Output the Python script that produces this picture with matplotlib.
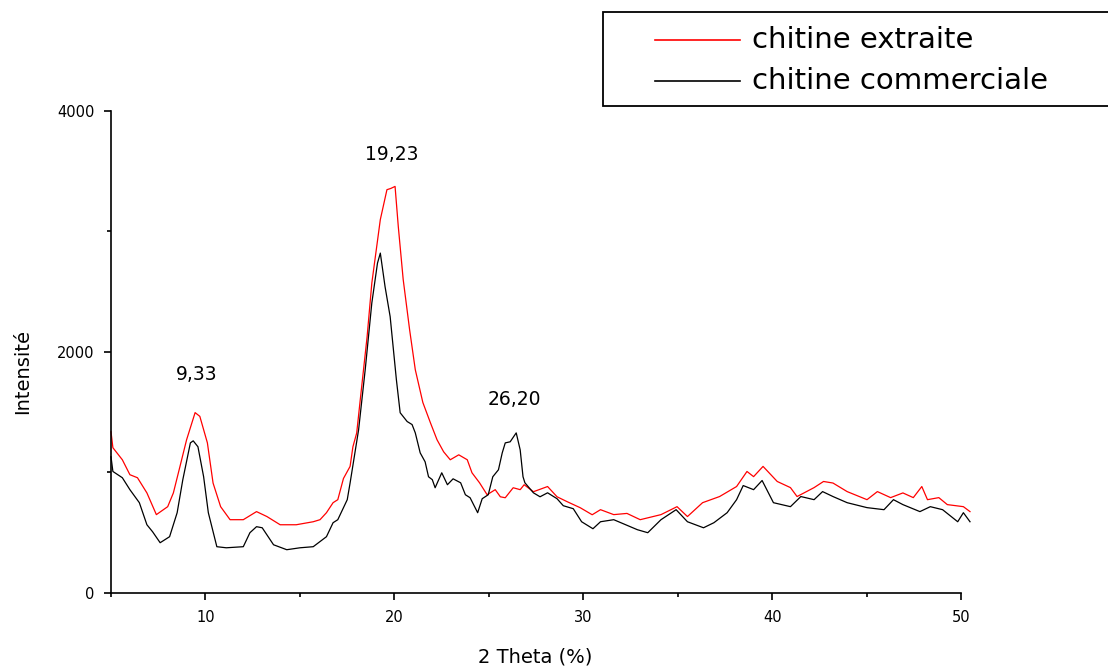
import matplotlib
matplotlib.use("Agg")
import matplotlib.pyplot as plt
from matplotlib.lines import Line2D
from matplotlib.patches import Rectangle

plt.rcParams["font.family"] = ["DejaVu Sans"]

# diffractogramme DRX (2 theta, intensité)
x_extraite = [5.0, 5.1, 5.6, 6.0, 6.4, 6.9, 7.4, 8.0, 8.3, 8.65, 9.0, 9.45, 9.7,
              10.1, 10.4, 10.8, 11.3, 12.0, 12.7, 13.25, 13.95, 14.8, 15.7, 16.06,
              16.4, 16.75, 17.0, 17.3, 17.65, 17.8, 18.0, 18.2, 18.55, 18.8, 19.25,
              19.6, 19.8, 20.03, 20.2, 20.46, 20.8, 21.1, 21.5, 21.9, 22.25, 22.6,
              22.95, 23.4, 23.85, 24.1, 24.5, 24.9, 25.33, 25.6, 25.86, 26.28, 26.65,
              26.86, 27.35, 28.1, 28.6, 29.14, 29.83, 30.46, 30.9, 31.6, 32.3, 33.0,
              34.1, 34.95, 35.5, 36.3, 37.2, 38.1, 38.65, 39.0, 39.5, 40.25, 40.95,
              41.3, 42.2, 42.7, 43.2, 43.95, 45.0, 45.55, 46.25, 46.9, 47.45, 47.9,
              48.2, 48.8, 49.25, 50.1, 50.45]
y_extraite = [1337, 1205, 1105, 981, 956, 830, 650, 716, 830, 1050, 1271, 1496, 1465,
              1245, 912, 716, 608, 608, 675, 634, 566, 566, 591, 608,
              666, 749, 774, 950, 1050, 1213, 1327, 1620, 2125, 2570, 3097,
              3345, 3355, 3372, 3040, 2600, 2183, 1852, 1580, 1412, 1271, 1171,
              1105, 1146, 1105, 997, 914, 815, 857, 798, 790, 873, 857,
              898, 840, 883, 798, 757, 707, 649, 691, 650, 660, 608,
              650, 716, 634, 749, 800, 883, 1008, 965, 1050, 925, 874,
              800, 874, 925, 912, 841, 774, 841, 791, 830, 791, 883,
              774, 791, 733, 716, 675]

x_commerciale = [5.0, 5.1, 5.6, 6.0, 6.5, 6.9, 7.2, 7.6, 8.1, 8.5, 8.8, 9.2, 9.35,
                 9.6, 9.9, 10.15, 10.6, 11.1, 12.0, 12.35, 12.7, 13.0, 13.6, 14.3,
                 15.0, 15.7, 16.4, 16.75, 17.0, 17.5, 17.65, 18.1, 18.45, 18.8, 19.1,
                 19.25, 19.5, 19.77, 20.1, 20.3, 20.67, 20.93, 21.1, 21.36, 21.62, 21.8,
                 22.0, 22.15, 22.5, 22.8, 23.1, 23.5, 23.75, 24.0, 24.4, 24.64, 24.96,
                 25.2, 25.5, 25.7, 25.86, 26.12, 26.44, 26.65, 26.8, 26.9, 27.35, 27.7,
                 28.1, 28.6, 28.93, 29.46, 29.9, 30.5, 30.9, 31.6, 32.85, 33.4, 34.1,
                 34.9, 35.5, 36.35, 36.9, 37.6, 38.1, 38.45, 39.0, 39.45, 40.05, 40.95,
                 41.5, 42.2, 42.65, 43.2, 43.95, 45.0, 45.9, 46.4, 46.9, 47.8, 48.35,
                 49.0, 49.8, 50.1, 50.45]
y_commerciale = [1130, 1008, 956, 857, 749, 566, 508, 417, 467, 666, 940, 1245, 1262,
                 1213, 965, 666, 384, 375, 384, 500, 550, 541, 400, 359,
                 375, 384, 467, 583, 608, 774, 912, 1353, 1852, 2405, 2736,
                 2819, 2541, 2292, 1769, 1495, 1422, 1397, 1328, 1162, 1088, 964,
                 940, 873, 997, 898, 947, 914, 815, 790, 666, 782, 815,
                 964, 1022, 1162, 1245, 1254, 1328, 1187, 964, 914, 831, 798,
                 831, 782, 724, 699, 591, 533, 591, 608, 525, 500, 608,
                 691, 591, 541, 583, 666, 774, 891, 857, 933, 749, 716,
                 800, 774, 841, 800, 749, 708, 691, 774, 733, 675, 716,
                 691, 591, 666, 591]

pics = ["9,33", "19,23", "26,20"]
pics_x = [9.55, 19.88, 26.35]
pics_y = [1810, 3635, 1603]

legende = ["chitine extraite", "chitine commerciale"]
couleurs = ["#ff0000", "black"]

W, H = 1108, 666
fig = plt.figure(figsize=(W / 100, H / 100), dpi=100)
ax = fig.add_axes([111 / W, 1 - 593 / H, 859 / W, (593 - 110.7) / H])

ax.plot(x_extraite, y_extraite, color=couleurs[0], lw=0.9, clip_on=False)
ax.plot(x_commerciale, y_commerciale, color=couleurs[1], lw=0.9, clip_on=False)

ax.set_xlim(5, 50.45)
ax.set_ylim(0, 4000)
ax.set_xticks([10, 20, 30, 40, 50])
ax.set_xticks([5, 15, 25, 35, 45], minor=True)
ax.set_yticks([0, 2000, 4000])
ax.set_yticks([1000, 3000], minor=True)
ax.tick_params(which="major", direction="out", length=5, width=1.2, labelsize=10.5, pad=7)
ax.tick_params(which="minor", direction="out", length=3, width=1.2)

for s in ["top", "right"]:
    ax.spines[s].set_visible(False)
for s in ["left", "bottom"]:
    ax.spines[s].set_linewidth(1.2)
ax.spines["bottom"].set_bounds(5, 50)

for t, xx, yy in zip(pics, pics_x, pics_y):
    ax.text(xx, yy, t, ha="center", va="center", fontsize=13.5)

fig.text(23 / W, 1 - 371 / H, "Intensité", rotation=90, ha="center", va="center", fontsize=14)
fig.text(535 / W, 1 - 657 / H, "2 Theta (%)", ha="center", va="center", fontsize=14)

# légende dessinée à la main (le cadre sort à droite)
fig.patches.append(Rectangle((603 / W, 1 - 106 / H), 600 / W, 94 / H, transform=fig.transFigure,
                             facecolor="white", edgecolor="black", lw=1.3))
for i, (lab, c) in enumerate(zip(legende, couleurs)):
    yy = 1 - (40 + 41 * i) / H
    fig.lines.append(Line2D([655 / W, 740 / W], [yy, yy], transform=fig.transFigure, color=c, lw=1.2))
    fig.text(752 / W, yy, lab, ha="left", va="center", fontsize=21)

fig.savefig("out.png", dpi=100)
